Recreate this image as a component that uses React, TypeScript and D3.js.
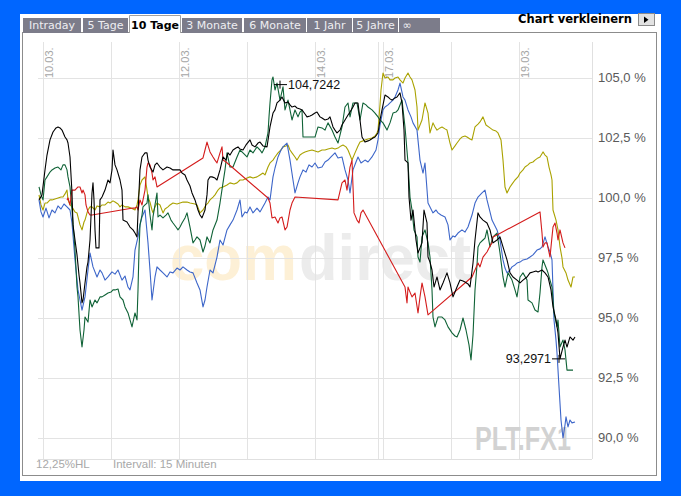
import React from 'react';
import * as d3 from 'd3';

// ---------- data ----------
const tabs = ['Intraday', '5 Tage', '10 Tage', '3 Monate', '6 Monate', '1 Jahr', '5 Jahre', '∞'];
const activeTab = '10 Tage';

// time unit: trading hours since 10.03. 09:00 (8.5 h per day)
const dayLines = [0, 8.5, 17, 25.5, 34, 41.875, 42.5, 51, 59.5];
const dateTicks = [0, 17, 34, 42.5, 59.5];
const dateTickLabels = ['10.03.', '12.03.', '14.03.', '17.03.', '19.03.'];
const yTicks = [105, 102.5, 100, 97.5, 95, 92.5, 90];

const maxMark = { t: 29.625, v: 104.7242 };
const minMark = { t: 64.5, v: 93.2971 };

const blue: [number, number][] = [
  [-0.5, 99.92], [-0.25, 99.42], [0, 99.21], [0.375, 99.58], [0.75, 99.17], [1.125, 99.5], [1.5, 99.38], [1.875, 99.67],
  [2.25, 99.54], [2.625, 99.75], [3, 99.63], [3.375, 99.5], [3.625, 98.96], [4, 97.42], [4.375, 96.17], [4.625, 95.75],
  [4.875, 95.33], [5.25, 95.88], [5.625, 97.0], [5.875, 97.71], [6.25, 97.13], [6.75, 96.71], [7.125, 97.0], [7.375, 96.88],
  [7.75, 96.58], [8.125, 96.71], [8.625, 96.92], [9, 96.83], [9.375, 97.0], [9.875, 96.58], [10.25, 96.75], [10.625, 96.29],
  [10.875, 96.17], [11.25, 96.71], [11.5, 97.83], [11.875, 98.38], [12.125, 98.88], [12.375, 99.21], [12.75, 99.5],
  [13.125, 98.13], [13.375, 97.0], [13.625, 95.75], [14, 96.71], [14.25, 97.13], [14.625, 97.0], [15, 96.88], [15.5, 96.71],
  [15.875, 96.92], [16.25, 96.88], [16.75, 97.08], [17.125, 97.0], [17.5, 97.13], [18, 97.0], [18.375, 96.92], [18.75, 96.88],
  [19.25, 96.46], [19.625, 96.17], [20, 95.46], [20.25, 95.75], [20.5, 96.29], [20.875, 97.0], [21.25, 96.88], [21.75, 97.54],
  [22.125, 98.25], [22.5, 98.04], [23, 98.67], [23.375, 98.88], [23.75, 99.08], [24.25, 99.5], [24.625, 99.92], [24.875, 99.21],
  [25.25, 99.42], [25.5, 99.38], [25.875, 99.63], [26.25, 99.38], [26.75, 99.58], [27.125, 99.42], [27.75, 99.79],
  [28.125, 100.04], [28.375, 99.92], [28.75, 100.88], [29, 101.25], [29.375, 101.71], [29.75, 102.0], [30, 102.13],
  [30.5, 102.29], [30.875, 101.58], [31.25, 100.75], [31.5, 100.21], [31.875, 100.63], [32.125, 100.88], [32.5, 101.17],
  [32.875, 101.08], [33.25, 101.38], [33.625, 101.29], [34, 101.46], [34.375, 101.25], [34.875, 101.29], [35.25, 101.5],
  [35.625, 101.58], [36, 101.71], [36.5, 101.88], [36.875, 101.67], [37.375, 101.71], [37.75, 101.17], [38.125, 100.75],
  [38.375, 100.21], [38.75, 101.17], [39.125, 101.5], [39.375, 101.71], [39.75, 101.46], [40.25, 101.58], [40.625, 101.5],
  [41.125, 101.71], [41.625, 102.0], [41.875, 102.42], [42.125, 103.04], [42.5, 103.67], [42.75, 103.79], [43.125, 103.88],
  [43.375, 103.96], [43.75, 104.08], [44, 104.21], [44.375, 104.5], [44.625, 104.79], [45, 104.21], [45.25, 104.08],
  [45.625, 103.67], [46, 103.38], [46.25, 103.13], [46.75, 102.83], [47.125, 101.58], [47.5, 101.04], [47.75, 101.46],
  [48.125, 99.79], [48.375, 99.63], [48.75, 99.38], [49.125, 99.5], [49.375, 99.38], [49.75, 99.29], [50.25, 99.21],
  [50.625, 98.88], [50.875, 98.25], [51.25, 98.42], [51.5, 98.38], [51.875, 98.54], [52.375, 98.67], [52.75, 98.58],
  [53.125, 98.79], [53.625, 99.29], [54, 99.79], [54.375, 100.04], [54.875, 100.21], [55.25, 100.33], [55.5, 99.92],
  [55.875, 99.42], [56.125, 99.08], [56.5, 98.83], [56.75, 98.67], [57.125, 98.25], [57.5, 97.42], [57.75, 97.08], [58, 96.88],
  [58.375, 97.0], [58.625, 97.13], [59, 97.21], [59.25, 97.29], [59.625, 97.33], [60, 97.42], [60.5, 97.46], [60.875, 97.54],
  [61.25, 97.63], [61.75, 97.83], [62.125, 97.88], [62.375, 97.96], [62.75, 98.38], [63.125, 97.96], [63.375, 97.75],
  [63.625, 97.42], [63.875, 94.92], [64.125, 94.08], [64.25, 93.54], [64.5, 92.13], [64.75, 90.75], [65, 90.0], [65.25, 90.54],
  [65.375, 90.88], [65.625, 90.46], [65.875, 90.75], [66.125, 90.63], [66.5, 90.67],
];

const black: [number, number][] = [
  [-0.5, 99.92], [-0.125, 100.13], [0.25, 101.17], [0.5, 101.79], [0.875, 102.42], [1.25, 102.75], [1.625, 102.92],
  [1.875, 102.96], [2.125, 102.92], [2.375, 102.83], [2.75, 102.54], [3, 102.42], [3.125, 102.29], [3.375, 101.71],
  [3.625, 100.21], [3.75, 98.88], [4, 98.25], [4.25, 97.63], [4.5, 96.79], [4.625, 96.46], [4.875, 95.63], [5, 95.75],
  [5.25, 96.46], [5.5, 97.13], [5.625, 97.33], [5.875, 98.25], [6.125, 100.21], [6.25, 100.63], [6.375, 99.92], [6.5, 98.67],
  [6.625, 97.92], [7, 97.92], [7.125, 99.92], [7.375, 100.04], [7.75, 100.33], [8.125, 100.75], [8.375, 100.63],
  [8.625, 101.17], [8.75, 102.0], [9, 101.38], [9.25, 101.17], [9.625, 100.75], [9.875, 100.33], [10, 99.08], [10.5, 99.0],
  [10.875, 98.79], [11.25, 98.67], [11.5, 98.54], [11.75, 98.38], [11.875, 99.38], [12.125, 101.17], [12.375, 101.71],
  [12.75, 101.88], [13, 101.88], [13.125, 101.58], [13.375, 101.29], [13.75, 101.08], [14, 101.38], [14.25, 101.46],
  [14.625, 101.29], [15, 101.17], [15.5, 101.29], [15.875, 101.25], [16.25, 101.17], [16.75, 101.17], [17.125, 101.17],
  [17.375, 101.04], [17.75, 100.96], [18, 100.75], [18.375, 100.5], [18.625, 100.21], [19, 99.92], [19.375, 99.5],
  [19.625, 99.29], [19.875, 99.17], [20.25, 99.5], [20.5, 100.13], [20.625, 100.75], [20.875, 100.88], [21.125, 100.88],
  [21.5, 100.83], [21.75, 100.75], [22.125, 101.17], [22.5, 101.71], [22.875, 101.58], [23.125, 101.88], [23.375, 101.79],
  [23.75, 102.0], [24.125, 102.08], [24.375, 102.13], [24.625, 102.04], [25, 102.0], [25.375, 102.21], [25.875, 102.42],
  [26.125, 102.21], [26.5, 102.13], [26.875, 102.29], [27.125, 102.33], [27.5, 102.17], [28, 102.13], [28.375, 102.96],
  [28.75, 103.54], [29, 103.67], [29.25, 103.96], [29.625, 104.08], [29.875, 104.21], [30.25, 103.96], [30.625, 104.0],
  [30.875, 103.88], [31.125, 103.79], [31.5, 103.83], [31.75, 103.75], [32.125, 103.71], [32.375, 103.67], [32.75, 103.5],
  [33, 103.38], [33.375, 103.42], [33.625, 103.46], [34, 103.54], [34.25, 103.58], [34.625, 103.38], [34.875, 103.33],
  [35.25, 103.25], [35.625, 103.29], [35.875, 103.38], [36.25, 102.96], [36.5, 102.83], [36.75, 102.71], [37.125, 102.83],
  [37.375, 103.04], [37.75, 103.25], [38.125, 103.46], [38.375, 103.58], [38.75, 103.79], [39, 103.96], [39.375, 103.96],
  [39.625, 103.25], [39.875, 102.54], [40.25, 102.33], [40.625, 102.38], [40.875, 102.42], [41.25, 102.5], [41.5, 102.54],
  [41.875, 102.71], [42.125, 103.25], [42.375, 103.67], [42.75, 104.29], [43.125, 104.21], [43.375, 104.13], [43.625, 104.08],
  [44, 104.17], [44.25, 104.21], [44.625, 104.38], [44.875, 103.96], [45.125, 102.83], [45.25, 101.58], [45.625, 101.46],
  [45.75, 100.04], [46, 99.08], [46.25, 99.5], [46.625, 98.25], [46.875, 97.71], [47.125, 97.92], [47.375, 98.13],
  [47.625, 99.5], [48, 98.96], [48.125, 97.54], [48.375, 97.33], [48.625, 97.0], [48.875, 96.29], [49.25, 96.71],
  [49.625, 96.17], [50, 96.46], [50.25, 96.67], [50.5, 96.88], [50.875, 96.46], [51.25, 95.88], [51.5, 96.08], [51.75, 96.29],
  [52.125, 96.58], [52.5, 96.54], [52.75, 96.5], [53.125, 96.42], [53.375, 96.29], [53.75, 97.29], [54, 98.25], [54.375, 99.38],
  [54.625, 99.21], [55, 99.08], [55.5, 98.96], [55.875, 98.67], [56.25, 98.13], [56.75, 98.25], [57.125, 98.38], [57.5, 97.96],
  [58, 97.42], [58.375, 96.88], [58.75, 96.71], [59.25, 96.58], [59.625, 96.46], [60, 96.58], [60.5, 96.71], [60.875, 96.88],
  [61.25, 96.92], [61.625, 96.96], [61.875, 96.92], [62.125, 96.96], [62.375, 97.0], [62.75, 96.88], [63.125, 96.71],
  [63.5, 96.17], [63.75, 95.46], [64.125, 94.92], [64.375, 94.38], [64.625, 93.3], [65, 93.79], [65.25, 94.08], [65.5, 93.79],
  [65.875, 94.21], [66.25, 94.08], [66.5, 94.21],
];

const green: [number, number][] = [
  [-0.5, 100.46], [-0.25, 100.13], [0, 99.92], [0.25, 100.75], [0.5, 100.88], [0.875, 101.08], [1.125, 101.17], [1.5, 101.25],
  [1.875, 101.29], [2.25, 101.17], [2.5, 101.38], [2.75, 101.38], [3, 101.17], [3.125, 100.88], [3.375, 100.46], [3.625, 99.5],
  [4, 97.83], [4.25, 96.29], [4.375, 95.88], [4.625, 94.5], [4.875, 93.79], [5.125, 94.5], [5.25, 95.04], [5.625, 94.83],
  [5.875, 95.75], [6.125, 95.46], [6.5, 95.75], [6.75, 95.63], [7.125, 95.88], [7.375, 95.88], [7.75, 95.96], [8.125, 96.04],
  [8.5, 96.08], [8.75, 96.17], [9, 96.17], [9.375, 96.21], [9.625, 95.88], [10, 95.75], [10.25, 95.46], [10.625, 95.21],
  [10.875, 94.92], [11.125, 94.63], [11.5, 95.21], [11.75, 94.92], [11.875, 96.17], [12, 97.83], [12.125, 98.88],
  [12.375, 99.29], [12.5, 99.63], [12.75, 99.71], [13, 99.79], [13.125, 100.13], [13.375, 99.29], [13.625, 98.67],
  [13.75, 99.21], [14, 99.71], [14.25, 100.21], [14.375, 99.21], [14.625, 99.29], [15, 99.17], [15.375, 99.29], [15.625, 99.38],
  [16, 99.08], [16.25, 98.96], [16.625, 98.79], [16.875, 98.67], [17.125, 98.79], [17.375, 98.96], [17.75, 99.17], [18, 99.38],
  [18.375, 98.79], [18.75, 98.13], [19, 98.25], [19.25, 98.38], [19.625, 98.25], [20, 97.75], [20.25, 98.0], [20.5, 98.38],
  [20.875, 98.13], [21.25, 98.67], [21.75, 99.08], [22.125, 99.79], [22.5, 100.63], [22.75, 101.17], [23, 101.88],
  [23.375, 101.29], [23.75, 101.29], [24, 101.5], [24.25, 101.71], [24.625, 102.0], [25, 101.88], [25.5, 101.71], [25.875, 102.0],
  [26.25, 101.88], [26.75, 102.13], [27.125, 102.0], [27.375, 101.88], [27.75, 102.13], [28.125, 102.71], [28.25, 103.38],
  [28.375, 103.96], [28.625, 104.92], [28.75, 105.04], [29, 104.5], [29.25, 104.79], [29.625, 104.08], [30, 104.63],
  [30.25, 103.67], [30.625, 104.08], [30.875, 103.67], [31.125, 103.25], [31.5, 103.67], [31.875, 103.38], [32.125, 103.58],
  [32.375, 103.67], [32.5, 102.54], [33, 102.54], [33.375, 102.54], [34, 102.54], [34.375, 102.96], [34.875, 102.92],
  [35.25, 102.83], [35.625, 103.13], [36.125, 102.83], [36.5, 102.54], [36.875, 102.29], [37.375, 102.96], [37.75, 103.79],
  [38.125, 103.96], [38.375, 103.38], [38.75, 103.96], [39.25, 103.96], [39.625, 103.25], [40, 103.96], [40.375, 103.88],
  [40.625, 103.79], [41.125, 103.67], [41.5, 103.54], [41.875, 103.38], [42.125, 103.25], [42.5, 103.13], [43, 102.83],
  [43.375, 103.13], [43.75, 103.54], [44.125, 103.58], [44.375, 103.67], [44.875, 104.08], [45.25, 102.96], [45.625, 101.46],
  [45.875, 100.04], [46.125, 99.5], [46.375, 98.67], [46.75, 98.38], [46.875, 97.54], [47.125, 97.33], [47.375, 98.38],
  [47.75, 98.67], [48.125, 98.13], [48.375, 97.54], [48.625, 96.17], [48.75, 95.04], [49, 94.63], [49.375, 95.04],
  [49.875, 95.04], [50.25, 94.92], [50.625, 94.63], [51.125, 94.38], [51.5, 94.25], [51.75, 94.21], [52.125, 94.5], [52.5, 95.0],
  [52.875, 94.5], [53.25, 93.88], [53.5, 93.25], [53.75, 94.29], [54, 96.17], [54.25, 97.21], [54.375, 97.96], [54.625, 98.13],
  [55, 98.25], [55.25, 98.33], [55.5, 98.67], [55.875, 97.96], [56.25, 98.38], [56.75, 98.54], [57.125, 97.71], [57.5, 96.71],
  [57.75, 96.29], [58.125, 96.88], [58.625, 96.58], [59, 96.17], [59.25, 95.88], [59.625, 96.71], [60, 96.88], [60.5, 96.58],
  [60.625, 95.75], [61.125, 95.63], [61.5, 95.33], [61.875, 95.25], [62.125, 96.04], [62.375, 97.13], [62.5, 97.42],
  [62.75, 97.21], [63, 97.0], [63.125, 96.88], [63.375, 96.58], [63.625, 96.29], [63.875, 95.21], [64.25, 94.63],
  [64.375, 94.92], [64.625, 93.79], [65, 94.08], [65.25, 93.67], [65.5, 92.83], [66.25, 92.83],
];

const olive: [number, number][] = [
  [-0.5, 100.13], [-0.25, 99.71], [0, 99.5], [0.25, 99.79], [0.5, 99.79], [0.875, 99.92], [1.125, 99.92], [1.5, 99.96],
  [1.875, 100.0], [2.25, 100.04], [2.5, 100.04], [2.75, 100.17], [3, 100.33], [3.125, 99.92], [3.375, 99.71], [3.625, 99.63],
  [4, 99.42], [4.25, 99.38], [4.625, 98.88], [4.875, 98.67], [5.125, 99.0], [5.25, 99.08], [5.5, 99.38], [5.625, 99.5],
  [5.875, 99.63], [6.125, 99.63], [6.5, 99.5], [6.75, 99.67], [7.125, 99.63], [7.375, 99.71], [7.75, 99.71], [8.125, 99.83],
  [8.375, 99.79], [8.75, 99.88], [9, 99.83], [9.375, 99.75], [9.625, 99.63], [9.875, 99.71], [10.25, 99.63], [10.625, 99.63],
  [11, 99.58], [11.5, 99.5], [11.75, 99.71], [11.875, 99.92], [12.125, 100.54], [12.375, 100.75], [12.75, 100.88],
  [13, 100.33], [13.125, 100.04], [13.375, 99.83], [13.625, 99.5], [13.75, 99.38], [14, 99.63], [14.25, 99.79], [14.625, 99.71],
  [15, 99.38], [15.25, 99.54], [15.625, 99.63], [15.875, 99.71], [16.25, 99.79], [16.75, 99.75], [17.125, 99.79], [17.5, 99.83],
  [18, 99.83], [18.375, 99.79], [19, 99.75], [19.25, 99.71], [19.625, 99.38], [20, 99.5], [20.375, 99.71], [20.625, 99.79],
  [20.875, 99.92], [21.25, 100.04], [21.5, 100.13], [21.875, 100.33], [22.125, 100.42], [22.5, 100.46], [23, 100.54],
  [23.375, 100.63], [23.875, 100.58], [24.25, 100.63], [24.625, 100.75], [25, 100.75], [25.5, 100.83], [25.875, 100.88],
  [26.25, 100.83], [26.75, 100.88], [27.125, 100.96], [27.5, 101.04], [27.75, 100.96], [28.125, 101.29], [28.375, 101.46],
  [28.75, 101.58], [29, 101.71], [29.375, 101.88], [29.75, 102.0], [30, 102.13], [30.375, 102.17], [30.625, 102.21],
  [30.875, 102.0], [31.125, 101.88], [31.5, 101.71], [31.75, 101.58], [32.125, 101.79], [32.5, 101.88], [32.75, 101.92],
  [33.125, 101.96], [33.625, 102.0], [34, 101.96], [34.375, 101.92], [34.875, 102.0], [35.25, 102.0], [35.625, 102.04],
  [36.125, 102.08], [36.5, 102.04], [36.875, 102.08], [37.25, 102.17], [37.5, 102.21], [37.875, 102.13], [38.125, 102.0],
  [38.375, 101.79], [38.625, 101.58], [39, 101.88], [39.375, 102.17], [39.625, 102.33], [40, 102.38], [40.25, 102.42],
  [40.625, 102.46], [41.125, 102.5], [41.5, 102.58], [41.75, 102.71], [41.875, 102.83], [42.125, 103.88], [42.25, 104.5],
  [42.5, 105.21], [42.75, 105.0], [43.125, 105.04], [43.375, 104.92], [43.75, 104.92], [44, 105.0], [44.375, 105.04],
  [44.625, 104.92], [45, 104.79], [45.25, 105.0], [45.625, 105.21], [45.875, 105.04], [46.125, 104.92], [46.5, 104.5],
  [46.75, 103.79], [46.875, 102.83], [47.125, 103.04], [47.375, 103.25], [47.75, 103.96], [48.125, 103.54], [48.375, 102.71],
  [48.75, 103.13], [49, 102.96], [49.25, 102.83], [49.625, 102.92], [49.875, 102.96], [50.25, 102.88], [50.5, 102.83],
  [50.875, 102.29], [51.125, 102.0], [51.5, 102.17], [51.75, 102.29], [52.125, 102.46], [52.375, 102.54], [52.75, 102.58],
  [53, 102.54], [53.375, 102.46], [53.625, 102.42], [54, 102.96], [54.375, 103.08], [54.625, 103.17], [55, 103.38],
  [55.375, 103.04], [55.875, 102.92], [56.25, 102.83], [56.625, 102.79], [56.875, 102.71], [57.25, 102.42], [57.5, 101.58],
  [57.75, 100.46], [58, 100.21], [58.375, 100.46], [58.625, 100.58], [59, 100.75], [59.375, 100.88], [59.625, 101.04],
  [60, 101.17], [60.25, 101.29], [60.625, 101.38], [60.875, 101.46], [61.25, 101.5], [61.5, 101.58], [61.875, 101.67],
  [62.125, 101.71], [62.5, 101.92], [62.75, 101.79], [63, 101.71], [63.25, 101.29], [63.5, 100.96], [63.625, 100.75],
  [63.75, 99.5], [64.125, 99.08], [64.375, 98.67], [64.625, 97.96], [64.875, 97.5], [65, 97.13], [65.375, 96.88],
  [65.625, 96.58], [66, 96.29], [66.25, 96.71], [66.5, 96.71],
];

const red: [number, number][] = [
  [3, 99.92], [3.125, 100.0], [3.375, 99.71], [3.625, 100.33], [4, 100.33], [4.375, 100.46], [4.625, 100.46], [4.875, 100.21],
  [5, 100.33], [5.25, 100.13], [5.375, 99.71], [5.625, 99.42], [5.875, 99.29], [6.125, 99.29],
  [11.25, 99.58], [11.5, 99.58], [11.75, 99.63], [11.875, 99.5], [12.125, 99.92], [12.375, 99.71], [12.75, 100.33],
  [13, 101.29], [13.125, 101.46], [13.375, 101.38], [13.625, 101.04], [13.75, 100.75], [14, 100.88], [14.25, 100.46],
  [20, 101.67], [20.25, 102.0], [20.5, 102.33], [20.875, 101.92], [21.25, 101.71], [21.5, 101.58], [21.75, 101.46],
  [22.125, 101.88], [22.375, 102.13], [22.5, 101.58], [22.875, 101.5],
  [28.125, 100.0], [28.375, 99.79], [28.625, 99.17], [29, 99.21], [29.375, 98.96], [29.625, 99.17], [29.875, 99.21],
  [30.25, 98.67], [30.5, 98.79], [30.875, 99.5], [31.125, 99.79], [31.5, 100.04],
  [36.875, 99.92], [37.375, 100.63], [37.75, 100.75], [38, 100.33], [38.375, 101.29], [38.625, 101.58], [38.875, 99.38],
  [39.25, 99.08], [39.5, 98.96], [39.75, 99.38], [40, 99.5],
  [45.25, 96.29], [45.5, 95.63], [45.625, 96.29], [45.875, 96.08], [46.125, 95.88], [46.5, 96.04], [46.875, 95.21],
  [47.125, 95.88], [47.375, 96.46], [47.75, 95.88], [48.125, 95.13],
  [53.625, 96.71], [54, 97.0], [54.375, 97.29], [54.625, 97.13], [55, 97.54], [55.5, 97.75], [55.875, 98.0], [56.125, 98.13],
  [56.25, 98.38], [56.75, 98.46],
  [62.125, 99.42], [62.375, 98.54], [62.5, 97.96], [62.75, 98.13], [63, 98.13], [63.375, 97.54], [63.625, 98.38],
  [63.75, 98.79], [64, 98.96], [64.25, 98.54], [64.375, 98.25], [64.625, 98.67], [65, 98.13], [65.25, 97.92],
];

const seriesOrder = [
  { data: olive, color: '#aaa200' },
  { data: blue, color: '#3d66c9' },
  { data: green, color: '#0f6236' },
  { data: red, color: '#d41c1c' },
  { data: black, color: '#000000' },
];

// ---------- layout ----------
const W = 681;
const H = 496;
const tabX = [23, 83, 129, 182, 244, 307, 353, 399];
const tabW = [58, 45, 52, 60, 62, 45, 45, 41];

const fmtPct = (v: number) => d3.format('.1f')(v).replace('.', ',') + ' %';
const fmtVal = (v: number) => d3.format('.4f')(v).replace('.', ',');

export default function App() {
  const x = d3.scaleLinear().domain([0, 68.625]).range([43, 592]);
  const y = d3.scaleLinear().domain([90, 105]).range([438, 78]);
  const line = d3
    .line<[number, number]>()
    .x((d) => x(d[0]))
    .y((d) => y(d[1]));

  const plotTop = 42;
  const plotBottom = 459;
  const plotLeft = 38;
  const plotRight = 592;

  const mx = x(maxMark.t);
  const my = y(maxMark.v);
  const nx = x(minMark.t);
  const ny = y(minMark.v);

  return (
    <div style={{ position: 'fixed', left: 0, top: 0, width: W, height: H, background: '#0066ff' }}>
      <svg width={W} height={H} style={{ display: 'block' }}>
        {/* panel */}
        <rect x={20} y={14} width={641} height={467} fill="#ffffff" />
        <rect x={22.5} y={32.5} width={634} height={443} fill="none" stroke="#8c8c8c" strokeWidth={1} />

        {/* tabs */}
        {tabs.map((t, i) => {
          const active = t === activeTab;
          const cx = tabX[i] + tabW[i] / 2;
          return (
            <g key={t}>
              {active ? (
                <>
                  <rect x={tabX[i]} y={15} width={tabW[i]} height={19} fill="#ffffff" />
                  <path
                    d={`M${tabX[i] + 0.5},33 V15.5 H${tabX[i] + tabW[i] - 0.5} V33`}
                    fill="none"
                    stroke="#a0a0a0"
                  />
                </>
              ) : (
                <rect x={tabX[i]} y={18} width={tabW[i]} height={15} fill="#7c7c8a" />
              )}
              <text
                x={t === '∞' ? tabX[i] + 8 : cx}
                y={29}
                textAnchor="middle"
                fontFamily="DejaVu Sans, Verdana, sans-serif"
                fontSize={11}
                fontWeight={active ? 'bold' : 'normal'}
                fill={active ? '#000000' : '#eeeef2'}
              >
                {t}
              </text>
            </g>
          );
        })}

        <text
          x={518}
          y={23}
          fontFamily="DejaVu Sans, Verdana, sans-serif"
          fontSize={11.5}
          fontWeight="bold"
          fill="#000"
          textLength={114}
          lengthAdjust="spacingAndGlyphs"
        >
          Chart verkleinern
        </text>
        <rect x={638.5} y={13.5} width={16} height={12} fill="#e2e2e2" stroke="#8a8a8a" />
        <path d="M644,16.5 L644,23 L648.5,19.75 Z" fill="#000" />

        {/* watermark */}
        <text
          x={170}
          y={280}
          fontFamily="Liberation Sans, Arial, sans-serif"
          fontWeight="bold"
          fontSize={64}
          fill="#fdf0d6"
          textLength={127}
          lengthAdjust="spacingAndGlyphs"
        >
          com
        </text>
        <text
          x={299}
          y={280}
          fontFamily="Liberation Sans, Arial, sans-serif"
          fontWeight="bold"
          fontSize={64}
          fill="#ececec"
          textLength={172}
          lengthAdjust="spacingAndGlyphs"
        >
          direct
        </text>

        {/* grid */}
        {yTicks.map((v) => (
          <line key={'h' + v} x1={plotLeft} x2={plotRight} y1={Math.round(y(v)) + 0.5} y2={Math.round(y(v)) + 0.5} stroke="#e3e3e3" />
        ))}
        {dayLines.map((t) => (
          <line key={'v' + t} x1={Math.round(x(t)) + 0.5} x2={Math.round(x(t)) + 0.5} y1={plotTop} y2={plotBottom} stroke="#e3e3e3" />
        ))}
        <line x1={plotRight + 0.5} x2={plotRight + 0.5} y1={plotTop} y2={plotBottom} stroke="#e0e0e0" />
        <line x1={plotLeft} x2={plotRight} y1={plotBottom + 0.5} y2={plotBottom + 0.5} stroke="#e0e0e0" />

        {/* date labels */}
        {dateTicks.map((t, i) => (
          <text
            key={'d' + t}
            transform={`translate(${x(t) + 10},78) rotate(-90)`}
            textAnchor="start"
            fontFamily="Liberation Sans, Arial, sans-serif"
            fontSize={11}
            fill="#a6a6a6"
          >
            {dateTickLabels[i]}
          </text>
        ))}

        {/* PLT.FX1 watermark */}
        <text
          transform="translate(475,450) scale(0.74,1)"
          fontFamily="Liberation Sans, Arial, sans-serif"
          fontWeight="bold"
          fontSize={34}
          fill="#d2d2d2"
        >
          PLT.FX1
        </text>

        {/* y labels */}
        {yTicks.map((v) => (
          <text
            key={'l' + v}
            x={598}
            y={y(v)}
            dy="0.33em"
            fontFamily="Liberation Sans, Arial, sans-serif"
            fontSize={13}
            fill="#5a5a5a"
          >
            {fmtPct(v)}
          </text>
        ))}

        {/* series */}
        {seriesOrder.map((s, i) => (
          <path key={'s' + i} d={line(s.data) || ''} fill="none" stroke={s.color} strokeWidth={1.1} strokeLinejoin="round" />
        ))}

        {/* markers */}
        <line x1={mx - 6} x2={mx + 7} y1={my} y2={my} stroke="#000" strokeWidth={1} />
        <line x1={mx} x2={mx} y1={my - 4} y2={my + 4} stroke="#000" strokeWidth={1} />
        <text x={mx + 8} y={my} dy="0.35em" fontFamily="Liberation Sans, Arial, sans-serif" fontSize={12.5} fill="#111">
          {fmtVal(maxMark.v)}
        </text>
        <line x1={nx - 7} x2={nx + 6} y1={ny} y2={ny} stroke="#000" strokeWidth={1} />
        <line x1={nx} x2={nx} y1={ny - 4} y2={ny + 4} stroke="#000" strokeWidth={1} />
        <text x={nx - 8} y={ny} dy="0.35em" textAnchor="end" fontFamily="Liberation Sans, Arial, sans-serif" fontSize={12.5} fill="#111">
          {fmtVal(minMark.v)}
        </text>

        {/* footer */}
        <text x={36} y={468} fontFamily="Liberation Sans, Arial, sans-serif" fontSize={11.5} fill="#a8a8a8">
          12,25%HL
        </text>
        <text x={113} y={468} fontFamily="Liberation Sans, Arial, sans-serif" fontSize={11.5} fill="#a8a8a8">
          Intervall: 15 Minuten
        </text>
      </svg>
    </div>
  );
}
